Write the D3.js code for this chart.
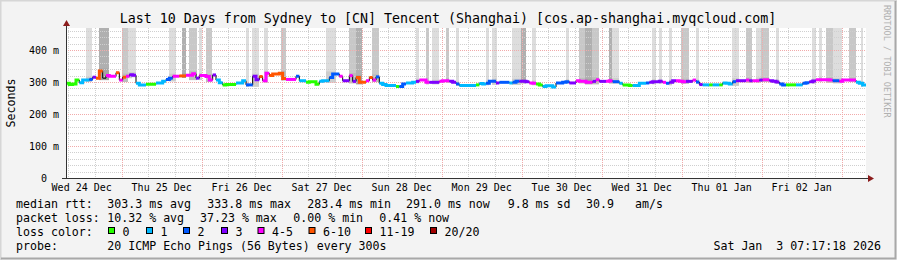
<!DOCTYPE html>
<html><head><meta charset="utf-8">
<script src="https://cdn.jsdelivr.net/npm/d3@7"></script>
<style>
body{margin:0;background:#f3f3f3;}
svg text{font-family:"DejaVu Sans Mono",monospace;white-space:pre;}
</style>
</head><body>
<svg id="c" width="897" height="260"></svg>
<script>
// ---------- data ----------
const titleText = "Last 10 Days from Sydney to [CN] Tencent (Shanghai) [cos.ap-shanghai.myqcloud.com]";
const endTime = new Date(Date.UTC(2026, 0, 3, 7, 17, 18));
const spanHours = 240;
// hourly median rtt (ms)
const medianMs = [
296,292,294,306,298,306,306,308,315,312, 334,312,320,318,318,329,306,315,318,323,
321,296,291,291,293,293,293,297,297,302, 308,312,318,318,319,319,321,321,326,312,
320,320,317,306,322,306,298,291,292,292, 292,297,297,304,291,291,318,307,317,304,
327,320,325,325,327,311,308,308,308,318, 304,304,299,301,301,293,302,304,304,314,
325,325,318,304,304,320,302,314,299,299, 304,314,306,316,296,292,289,289,289,286,
286,294,297,297,299,302,306,306,299,299, 299,299,302,304,304,302,299,294,289,289,
289,289,289,291,295,294,296,302,302,297, 299,299,299,297,299,302,302,302,301,297,
296,294,291,286,288,288,284,297,297,299, 301,297,297,304,302,302,299,299,302,307,
302,302,302,304,301,301,296,291,291,289, 289,289,296,296,297,299,301,301,302,299,
296,299,304,304,302,301,302,302,306,300, 292,291,291,291,291,291,291,297,296,294,
301,304,304,304,306,304,304,304,306,307, 307,304,302,300,294,291,291,291,291,291,
291,296,298,301,303,307,307,307,307,306, 304,304,302,306,306,306,306,299,296,291
];
// hourly loss class (index into lossLabels, -1 = none)
const lossClass = [
0,0,0,0,1,1,1,2,3,5, 5,-1,4,4,4,5,4,5,4,3, 3,1,1,1,0,0,0,1,1,1, 2,2,4,4,5,5,4,4,4,3,
4,4,4,4,3,1,1,0,0,0, 0,1,1,1,2,2,3,3,5,4, 4,5,5,5,5,5,4,4,4,2, 1,1,0,0,0,0,1,1,1,2,
2,2,4,3,3,4,3,5,5,5, 4,5,4,2,1,1,1,1,1,0, 2,2,1,1,1,3,4,4,4,3, 3,3,4,4,4,3,3,2,1,1,
1,1,1,0,1,1,2,2,2,3, 2,2,2,1,2,2,3,3,3,4, 4,0,0,1,1,1,1,2,2,2, 2,3,3,4,4,4,4,4,3,4,
3,3,4,4,2,2,1,0,0,0, 1,1,1,1,2,3,3,3,3,4, 2,3,3,4,4,4,3,3,4,2, 3,1,1,0,1,1,0,1,1,1,
2,3,3,3,4,3,4,4,3,4, 4,3,3,3,2,2,0,0,0,1, 1,2,2,3,3,4,4,4,4,4, 2,2,4,4,4,4,4,1,1,1
];
// smoke bands (hours from start), shade level 1..3
const bandStart = [6.0,9.9,16.8,18.6,19.8,30.9,34.8,36.9,39.9,42,54,55.8,59.4,64.5,78,84.9,87,91.8,105,108,109.8,114,117,126,127.8,133.8,136.5,139.8,150,153.9,155.7,157.8,162.9,163.8,175.8,177.9,180.9,184.5,189,199.8,204,207,208.5,213,223.8,225.9,228,230.1,234.9,238.5];
const bandEnd   = [7.8,12.9,18.6,19.8,21,33,36,39.3,40.8,43.8,54.9,57.9,60.6,66,81,87,88.8,93.9,105.9,108.9,111.9,114.9,117.9,126.9,129.3,136.5,138,141,150.9,155.7,157.8,159.9,163.8,165.9,177,178.8,181.8,186.9,189.9,201.9,205.8,208.5,210.9,213.9,225,226.8,230.1,232.8,237,239.1];
const bandShade = [1,3,2,1,1,1,3,2,1,2,1,1,1,2,1,2,3,2,1,2,1,2,1,1,1,1,3,1,1,2,3,2,3,1,1,1,1,2,1,1,2,1,2,1,1,1,2,1,2,1];

const yTicks = [0,100,200,300,400];
const yLabels = ["0","100 m","200 m","300 m","400 m"];
const yMax = 468.75;

const lossLabels = ["0","1","2","3","4-5","6-10","11-19","20/20"];
const lossColors = ["#26ff00","#00b8ff","#0059ff","#7e00ff","#ff00ff","#ff5500","#ff0000","#a10000"];

const rttStats = ["median rtt:","303.3 ms avg","333.8 ms max","283.4 ms min","291.0 ms now","9.8 ms sd","30.9","am/s"];
const lossStats = ["packet loss:","10.32 % avg","37.23 % max","0.00 % min","0.41 % now"];
const probeText = ["probe:","20 ICMP Echo Pings (56 Bytes) every 300s"];
const dateText = "Sat Jan  3 07:17:18 2026";
const yTitle = "Seconds";
const credit = "RRDTOOL / TOBI OETIKER";

// ---------- drawing ----------
const HOUR = 3600e3;
const startTime = new Date(endTime.getTime() - spanHours*HOUR);
const svg = d3.select("#c");
const W = 897, H = 260;
const x = d3.scaleUtc().domain([startTime, endTime]).range([66, 866]);
const y = d3.scaleLinear().domain([0, yMax]).range([178, 28]);
const tAt = h => new Date(startTime.getTime() + h*HOUR);

svg.append("rect").attr("width", W).attr("height", H).attr("fill", "#f3f3f3");
// frame shading
svg.append("path").attr("d", `M0.5,${H}V0.5H${W}`).attr("fill","none").attr("stroke","#d6d6d6").attr("stroke-width",2);
svg.append("path").attr("d", `M1,${H-1.5}H${W-1.5}V1`).attr("fill","none").attr("stroke","#a8a8a8").attr("stroke-width",2);

// canvas
svg.append("rect").attr("x", 66).attr("y", 28).attr("width", 800).attr("height", 150).attr("fill", "#fff");

// smoke bands
const shadeFill = ["", "#dddddd", "#c8c8c8", "#b0b0b0"];
const coreFill = ["", "#cdcdcd", "#bcbcbc", "#a4a4a4"];
const gSmoke = svg.append("g");
bandStart.forEach((s, k) => {
  const e = bandEnd[k];
  const i0 = Math.max(0, Math.floor(s)), i1 = Math.min(spanHours-1, Math.ceil(e)-1);
  const vals = medianMs.slice(i0, i1+1);
  const lo = d3.min(vals) - 6, hi = d3.max(vals) + 8;
  const x0 = x(tAt(s)), x1 = x(tAt(e));
  gSmoke.append("rect").attr("x", x0).attr("width", x1-x0)
    .attr("y", y(yMax)).attr("height", y(lo) - y(yMax)).attr("fill", shadeFill[bandShade[k]]);
  gSmoke.append("rect").attr("x", x0).attr("width", x1-x0)
    .attr("y", y(hi)).attr("height", y(lo) - y(hi)).attr("fill", coreFill[bandShade[k]]);
});

// grid
const gGrid = svg.append("g").attr("shape-rendering","crispEdges");
const minorV = d3.utcHour.every(8).range(startTime, endTime).filter(d => d.getUTCHours() !== 0);
gGrid.selectAll(".mv").data(minorV).join("line")
  .attr("x1", d => Math.round(x(d))+0.5).attr("x2", d => Math.round(x(d))+0.5)
  .attr("y1", 28).attr("y2", 178).attr("stroke", "#cfcfcf").attr("stroke-dasharray", "1,1");
const minorH = d3.range(20, yMax, 20).filter(v => v % 100 !== 0);
gGrid.selectAll(".mh").data(minorH).join("line")
  .attr("y1", d => Math.round(y(d))+0.5).attr("y2", d => Math.round(y(d))+0.5)
  .attr("x1", 66).attr("x2", 866).attr("stroke", "#cfcfcf").attr("stroke-dasharray", "1,1");
const majorV = d3.utcDay.range(startTime, endTime);
gGrid.selectAll(".Mv").data(majorV).join("line")
  .attr("x1", d => Math.round(x(d))+0.5).attr("x2", d => Math.round(x(d))+0.5)
  .attr("y1", 28).attr("y2", 178).attr("stroke", "#f1aaaa").attr("stroke-dasharray", "1,1");
gGrid.selectAll(".Mh").data(yTicks.filter(v => v > 0)).join("line")
  .attr("y1", d => Math.round(y(d))+0.5).attr("y2", d => Math.round(y(d))+0.5)
  .attr("x1", 66).attr("x2", 866).attr("stroke", "#f1aaaa").attr("stroke-dasharray", "1,1");

// median thin line
const pts = medianMs.map((v, i) => [tAt(i), v]);
pts.push([endTime, medianMs[spanHours-1]]);
const line = d3.line().x(d => x(d[0])).y(d => y(d[1])).curve(d3.curveStepAfter);
svg.append("path").attr("d", line(pts)).attr("fill", "none").attr("stroke", "#000").attr("stroke-width", 1);

// coloured runs by loss
let i = 0;
while (i < spanHours) {
  const c = lossClass[i];
  let j = i;
  while (j + 1 < spanHours && lossClass[j+1] === c) j++;
  if (c >= 0) {
    const run = [];
    for (let k = i; k <= j; k++) run.push([tAt(k), medianMs[k]]);
    run.push([tAt(j+1), medianMs[j]]);
    svg.append("path").attr("d", line(run)).attr("fill", "none")
      .attr("stroke", lossColors[c]).attr("stroke-width", 3);
  }
  i = j + 1;
}

// axes
svg.append("line").attr("x1", 66.5).attr("x2", 66.5).attr("y1", 178).attr("y2", 25).attr("stroke", "#333");
svg.append("line").attr("x1", 62).attr("x2", 870).attr("y1", 178.5).attr("y2", 178.5).attr("stroke", "#333");
svg.append("path").attr("d", "M63,26L70,26L66.5,20Z").attr("fill", "#8b1c1c");
svg.append("path").attr("d", "M868,175L868,182L874,178.5Z").attr("fill", "#8b1c1c");

// y labels
svg.selectAll(".yl").data(yTicks).join("text")
  .attr("x", d => d === 0 ? 47 : 59).attr("y", d => y(d) + 4)
  .attr("text-anchor", "end").attr("font-size", 10).attr("fill", "#000")
  .text((d, k) => yLabels[k]);

// x labels at noon
const noons = d3.utcDay.range(d3.utcDay.floor(startTime), endTime)
  .map(d => new Date(d.getTime() + 12*HOUR)).filter(d => d > startTime && d < endTime);
const fmt = d3.utcFormat("%a %d %b");
svg.selectAll(".xl").data(noons).join("text")
  .attr("x", d => x(d)).attr("y", 191).attr("text-anchor", "middle")
  .attr("font-size", 10).attr("fill", "#000").text(d => fmt(d));

// title
svg.append("text").attr("x", 448).attr("y", 23).attr("text-anchor", "middle")
  .attr("font-size", 13.3).attr("fill", "#000").text(titleText);

// y title
svg.append("text").attr("transform", "translate(15,103) rotate(-90)").attr("text-anchor", "middle")
  .attr("font-size", 11.6).attr("fill", "#000").text(yTitle);

// credit
svg.append("text").attr("transform", "translate(884,5) rotate(90)")
  .attr("font-size", 8.5).attr("fill", "#b0b0b0").text(credit);

// legend
const fs = 11.6;
const rttX = [16, 107.3, 207.3, 307.3, 406, 507.7, 586, 635];
rttStats.forEach((t, k) => svg.append("text").attr("x", rttX[k]).attr("y", 208).attr("font-size", fs).text(t));
const lossX = [16, 107.3, 200, 293.3, 379.3];
lossStats.forEach((t, k) => svg.append("text").attr("x", lossX[k]).attr("y", 222).attr("font-size", fs).text(t));
svg.append("text").attr("x", 16).attr("y", 236).attr("font-size", fs).text("loss color:");
const boxX = [108, 146, 183, 221, 257.5, 308.5, 365, 430];
lossLabels.forEach((t, k) => {
  svg.append("rect").attr("x", boxX[k] + 0.5).attr("y", 227.5).attr("width", 6).attr("height", 6)
    .attr("fill", lossColors[k]).attr("stroke", "#000").attr("stroke-width", 1);
  svg.append("text").attr("x", boxX[k] + 14.5).attr("y", 236).attr("font-size", fs).text(t);
});
svg.append("text").attr("x", 16).attr("y", 250).attr("font-size", fs).text(probeText[0]);
svg.append("text").attr("x", 107.3).attr("y", 250).attr("font-size", fs).text(probeText[1]);
svg.append("text").attr("x", 881).attr("y", 250).attr("text-anchor", "end").attr("font-size", fs).text(dateText);
</script>
</body></html>
